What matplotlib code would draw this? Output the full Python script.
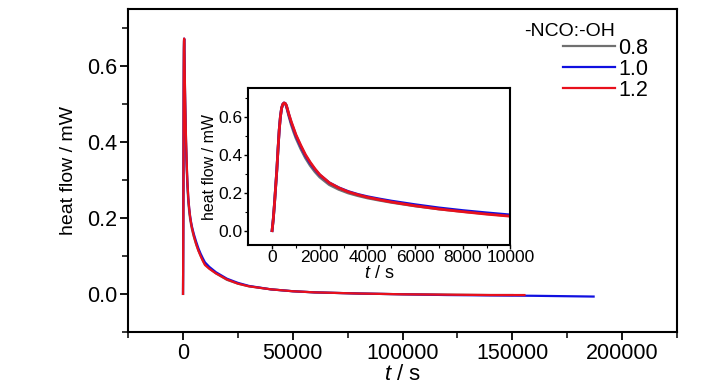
import matplotlib; matplotlib.use("Agg")
import matplotlib.pyplot as plt

plt.rcParams["font.family"] = ["Liberation Sans", "DejaVu Sans"]
plt.rcParams["mathtext.fontset"] = "custom"
plt.rcParams["mathtext.it"] = "Liberation Sans:italic"
plt.rcParams["mathtext.rm"] = "Liberation Sans"

# early part (0-10000 s)
t_early = [0, 50, 100, 150, 200, 250, 300, 350, 400, 450, 500, 550, 600, 700, 800, 900,
           1000, 1200, 1400, 1600, 1800, 2000, 2400, 2800, 3200, 3600, 4000, 4500, 5000,
           6000, 7000, 8000, 9000, 10000]
q_12_early = [0.0, 0.06, 0.14, 0.23, 0.32, 0.43, 0.53, 0.60, 0.645, 0.665, 0.672, 0.670, 0.660,
              0.615, 0.575, 0.540, 0.505, 0.450, 0.400, 0.360, 0.325, 0.295, 0.252, 0.225,
              0.204, 0.189, 0.176, 0.163, 0.151, 0.131, 0.114, 0.100, 0.087, 0.076]
q_10_early = [0.0, 0.06, 0.14, 0.23, 0.32, 0.43, 0.53, 0.60, 0.645, 0.665, 0.672, 0.670, 0.658,
              0.612, 0.570, 0.535, 0.500, 0.445, 0.395, 0.355, 0.322, 0.293, 0.252, 0.226,
              0.206, 0.191, 0.179, 0.167, 0.156, 0.137, 0.120, 0.106, 0.094, 0.083]
q_08_early = [0.0, 0.06, 0.14, 0.23, 0.32, 0.43, 0.53, 0.60, 0.645, 0.665, 0.671, 0.668, 0.655,
              0.605, 0.560, 0.522, 0.488, 0.432, 0.383, 0.343, 0.310, 0.282, 0.242, 0.217,
              0.198, 0.184, 0.172, 0.160, 0.149, 0.130, 0.114, 0.101, 0.089, 0.078]

# long tail
t_tail_12 = [12000, 15000, 20000, 25000, 30000, 40000, 50000, 60000, 80000, 100000, 120000, 140000, 155500]
q_12_tail = [0.066, 0.054, 0.038, 0.027, 0.020, 0.012, 0.007, 0.004, 0.001, -0.001, -0.002, -0.003, -0.003]
t_tail_10 = [12000, 15000, 20000, 25000, 30000, 40000, 50000, 60000, 80000, 100000, 120000, 140000, 160000, 187000]
q_10_tail = [0.071, 0.057, 0.040, 0.029, 0.021, 0.012, 0.007, 0.004, 0.001, -0.001, -0.003, -0.004, -0.005, -0.007]
t_tail_08 = [12000, 15000, 20000, 25000, 30000, 40000, 50000, 60000, 80000, 100000, 120000, 140000, 150000]
q_08_tail = [0.067, 0.054, 0.037, 0.027, 0.020, 0.012, 0.007, 0.004, 0.001, -0.001, -0.002, -0.003, -0.003]

series = [("0.8", "#707070", t_early + t_tail_08, q_08_early + q_08_tail),
          ("1.0", "#1010e0", t_early + t_tail_10, q_10_early + q_10_tail),
          ("1.2", "#e8101c", t_early + t_tail_12, q_12_early + q_12_tail)]

fig = plt.figure(figsize=(7.28, 3.9), dpi=100)
ax = fig.add_axes([0.176, 0.149, 0.754, 0.828])
for lab, c, t, q in series:
    ax.plot(t, q, color=c, lw=1.6, label=lab)
ax.set_xlim(-25000, 225000)
ax.set_ylim(-0.1, 0.75)
ax.set_xticks([0, 50000, 100000, 150000, 200000])
ax.set_xticks([-25000, 25000, 75000, 125000, 175000, 225000], minor=True)
ax.set_yticks([0.0, 0.2, 0.4, 0.6])
ax.set_yticks([-0.1, 0.1, 0.3, 0.5, 0.7], minor=True)
ax.yaxis.set_major_formatter(plt.FuncFormatter(lambda v, p: f"{v:.1f}"))
ax.tick_params(which="major", length=6, width=1.3, labelsize=15.5, pad=2)
ax.tick_params(which="minor", length=4, width=1.1)
for s in ax.spines.values():
    s.set_linewidth(1.5)
ax.set_xlabel("$t$ / s", fontsize=16, labelpad=0)
ax.set_ylabel("heat flow / mW", fontsize=14, labelpad=7)

leg = ax.legend(loc="upper left", bbox_to_anchor=(563 / 728, 1 - 38 / 390),
                bbox_transform=fig.transFigure, frameon=False, fontsize=15.5,
                handlelength=2.4, handletextpad=0.15, labelspacing=0.0,
                borderpad=0, borderaxespad=0)
fig.text(524 / 728, 1 - 31 / 390, "-NCO:-OH", fontsize=14, va="center", ha="left")

ins = fig.add_axes([0.341, 0.372, 0.36, 0.402])
for lab, c, t, q in series:
    ins.plot(t_early, q[:len(t_early)], color=c, lw=2.0)
ins.set_xlim(-1000, 10000)
ins.set_ylim(-0.075, 0.75)
ins.set_xticks([0, 2000, 4000, 6000, 8000, 10000])
ins.set_xticks([1000, 3000, 5000, 7000, 9000], minor=True)
ins.set_yticks([0.0, 0.2, 0.4, 0.6])
ins.set_yticks([0.1, 0.3, 0.5, 0.7], minor=True)
ins.yaxis.set_major_formatter(plt.FuncFormatter(lambda v, p: f"{v:.1f}"))
ins.tick_params(which="major", length=3, width=1.0, labelsize=12.5, pad=1)
ins.tick_params(which="minor", length=2, width=0.8)
for s in ins.spines.values():
    s.set_linewidth(1.5)
ins.set_xlabel("$t$ / s", fontsize=13, labelpad=0)
ins.set_ylabel("heat flow / mW", fontsize=11.5, labelpad=1)

fig.savefig("out.png", dpi=100)
